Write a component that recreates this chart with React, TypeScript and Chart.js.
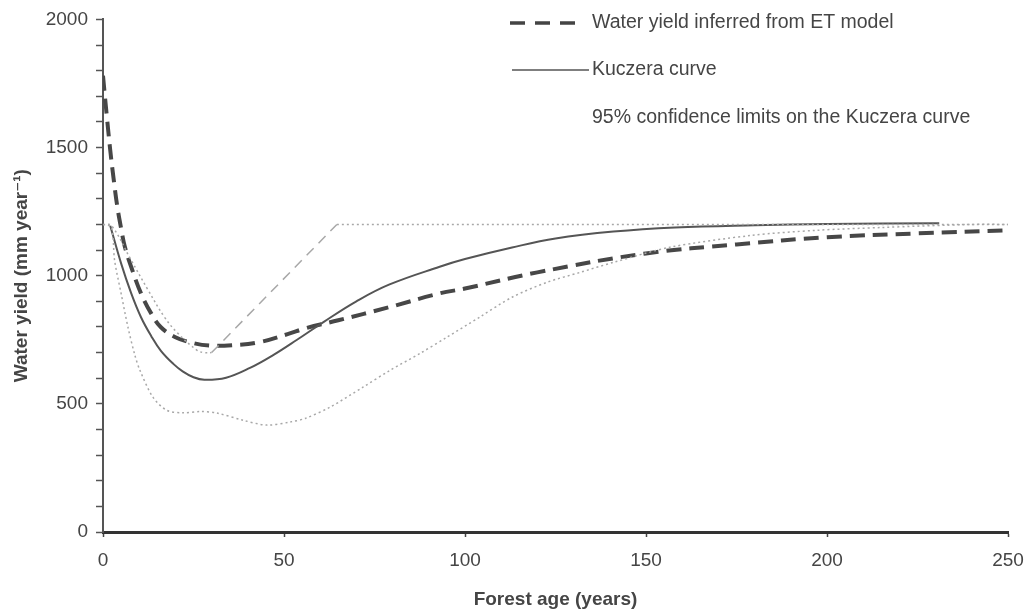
import { useEffect, useRef } from 'react';
import { Chart, registerables } from 'chart.js';

Chart.register(...registerables);

// Water yield inferred from ET model
const ET_YEARS = [0, 1, 2, 3, 4, 5, 6, 7.8, 10.5, 13.3, 16, 20, 25, 30, 36, 43, 51, 56, 65, 79, 93, 100, 120, 150, 175, 200, 225, 250];
const ET_YIELD = [1780, 1630, 1490, 1370, 1265, 1185, 1115, 1034, 931, 853, 799, 760, 737, 727, 729, 740, 772, 795, 826, 877, 931, 950, 1013, 1087, 1122, 1150, 1165, 1177];

// Kuczera curve
const KUC_YEARS = [2, 5, 7.8, 10.5, 13.3, 16, 19.5, 22, 25, 28, 34, 40.6, 47, 53.6, 61, 70, 79, 93, 100, 113, 125, 141, 158, 180, 200, 231];
const KUC_YIELD = [1195, 1048, 931, 838, 765, 707, 655, 627, 604, 594, 602, 640, 690, 750, 820, 900, 965, 1035, 1065, 1110, 1145, 1172, 1188, 1197, 1202, 1205];

// 95% confidence limits on the Kuczera curve
const UPPER_YEARS = [0, 2.3, 7.8, 12.5, 17, 20.7, 26, 28, 30];
const UPPER_YIELD = [1200, 1196, 1060, 943, 838, 775, 709, 700, 700];
const UPPER_STEP_YEARS = [30, 64.6, 250];
const UPPER_STEP_YIELD = [700, 1200, 1200];

const LOWER_YEARS = [0, 2.3, 3.2, 5, 6.9, 8.8, 10.2, 13.8, 17.6, 22, 27, 31.5, 38.7, 45.3, 52, 56, 62.7, 71.8, 79.3, 87.6, 95, 104, 113, 122.6, 131.8, 141, 156.6, 179, 197, 215, 240, 250];
const LOWER_YIELD = [1200, 1189, 1060, 931, 799, 690, 631, 526, 475, 465, 470, 464, 436, 417, 430, 444, 487, 565, 631, 697, 760, 838, 916, 974, 1013, 1052, 1111, 1157, 1177, 1188, 1200, 1200];

const X_TICKS = [0, 50, 100, 150, 200, 250];
const Y_LABELS = [0, 500, 1000, 1500, 2000];

const LEGEND_ET = 'Water yield inferred from ET model';
const LEGEND_KUC = 'Kuczera curve';
const LEGEND_CL = '95% confidence limits on the Kuczera curve';

const FONT = '"Liberation Sans", Arial, "DejaVu Sans", sans-serif';
const TEXT = '#454545';

const pts = (xs: number[], ys: number[]) => xs.map((x, i) => ({ x, y: ys[i] }));

const legendPlugin = {
  id: 'customLegend',
  afterDraw(chart: any) {
    const ctx = chart.ctx;
    ctx.save();
    ctx.strokeStyle = '#444';
    ctx.lineWidth = 3.5;
    ctx.setLineDash([15, 10]);
    ctx.beginPath();
    ctx.moveTo(510, 23);
    ctx.lineTo(583, 23);
    ctx.stroke();
    ctx.setLineDash([]);
    ctx.lineWidth = 1.5;
    ctx.strokeStyle = '#555';
    ctx.beginPath();
    ctx.moveTo(512, 70);
    ctx.lineTo(589, 70);
    ctx.stroke();
    ctx.fillStyle = TEXT;
    ctx.font = `19.5px ${FONT}`;
    ctx.textAlign = 'left';
    ctx.textBaseline = 'middle';
    ctx.fillText(LEGEND_ET, 592, 23);
    ctx.fillText(LEGEND_KUC, 592, 70);
    ctx.fillText(LEGEND_CL, 592, 118);
    ctx.restore();
  },
};

export default function App() {
  const ref = useRef<HTMLCanvasElement>(null);

  useEffect(() => {
    document.body.style.margin = '0';
    const canvas = ref.current;
    if (!canvas) return;
    const light = '#a8a8a8';
    const chart = new Chart(canvas, {
      type: 'line',
      data: {
        datasets: [
          {
            label: 'Upper limit',
            data: pts(UPPER_YEARS, UPPER_YIELD),
            borderColor: light,
            borderWidth: 1.5,
            borderDash: [2, 3],
            pointRadius: 0,
            tension: 0.4,
          },
          {
            label: 'Upper limit (step)',
            data: pts(UPPER_STEP_YEARS, UPPER_STEP_YIELD),
            borderColor: light,
            borderWidth: 1.5,
            borderDash: [2, 3],
            pointRadius: 0,
            tension: 0,
            segment: {
              borderDash: (c: any) => (c.p1.parsed.x <= 65 ? [10, 7] : [2, 3]),
            },
          },
          {
            label: 'Lower limit',
            data: pts(LOWER_YEARS, LOWER_YIELD),
            borderColor: light,
            borderWidth: 1.5,
            borderDash: [2, 3],
            pointRadius: 0,
            tension: 0.3,
          },
          {
            label: LEGEND_KUC,
            data: pts(KUC_YEARS, KUC_YIELD),
            borderColor: '#555',
            borderWidth: 2,
            pointRadius: 0,
            tension: 0.4,
          },
          {
            label: LEGEND_ET,
            data: pts(ET_YEARS, ET_YIELD),
            borderColor: '#474747',
            borderWidth: 4,
            borderDash: [15, 8],
            pointRadius: 0,
            tension: 0.4,
          },
        ],
      },
      options: {
        responsive: false,
        animation: false,
        layout: { padding: { left: 0, top: 19, right: 22, bottom: 0 } },
        plugins: {
          legend: { display: false },
          tooltip: { enabled: false },
        },
        scales: {
          x: {
            type: 'linear',
            min: 0,
            max: 250,
            afterFit: (s: any) => {
              s.height = 81;
              s.paddingLeft = 0;
              s.paddingRight = 0;
            },
            afterBuildTicks: (s: any) => {
              s.ticks = X_TICKS.map((v) => ({ value: v }));
            },
            ticks: {
              color: TEXT,
              font: { family: FONT, size: 19 },
              padding: 12,
              maxRotation: 0,
              autoSkip: false,
            },
            grid: {
              drawOnChartArea: false,
              color: '#444',
              tickLength: 5,
              tickWidth: 1.5,
            },
            border: { display: true, color: '#333', width: 3 },
            title: {
              display: true,
              text: 'Forest age (years)',
              color: TEXT,
              font: { family: FONT, size: 19, weight: 'bold' },
              padding: { top: 0, bottom: 2 },
            },
          },
          y: {
            type: 'linear',
            min: 0,
            max: 2000,
            afterFit: (s: any) => {
              s.width = 103;
            },
            ticks: {
              stepSize: 100,
              autoSkip: false,
              color: TEXT,
              font: { family: FONT, size: 19 },
              padding: 8,
              callback: (v: any) => (Y_LABELS.includes(Number(v)) ? String(v) : ''),
            },
            grid: {
              drawOnChartArea: false,
              color: '#555',
              tickLength: 7,
              tickWidth: 1.5,
            },
            border: { display: true, color: '#555', width: 2 },
            title: {
              display: true,
              text: 'Water yield (mm year⁻¹)',
              color: TEXT,
              font: { family: FONT, size: 19, weight: 'bold' },
              padding: { top: 10, bottom: 0 },
            },
          },
        },
      },
      plugins: [legendPlugin],
    } as any);
    return () => chart.destroy();
  }, []);

  return (
    <div style={{ width: 1030, height: 613, background: '#fff' }}>
      <canvas ref={ref} width={1030} height={613} />
    </div>
  );
}
